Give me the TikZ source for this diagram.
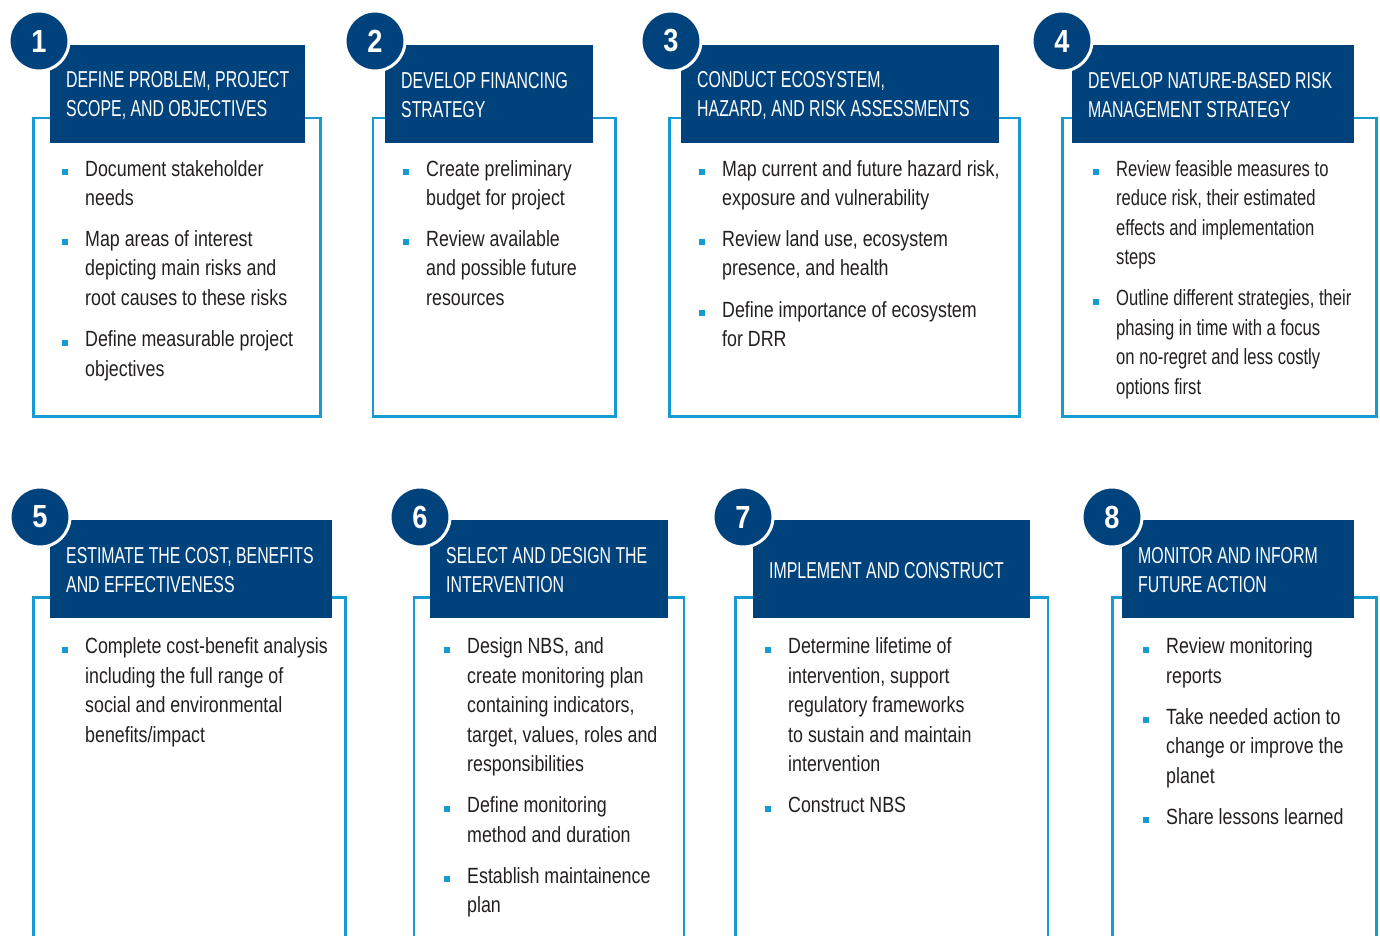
\documentclass[tikz,border=0pt]{standalone}
\usepackage{fontspec}
\usepackage{tikz}
\usetikzlibrary{positioning}
\newfontfamily\bodyfont[FakeStretch=0.81]{Liberation Sans}
\newfontfamily\narrowfont[FakeStretch=0.755]{Liberation Sans}
\newfontfamily\headfont[FakeStretch=0.69]{Liberation Sans}
\newfontfamily\numfont[FakeStretch=0.85]{Liberation Sans}
\definecolor{navy}{RGB}{0,66,124}
\definecolor{skyblue}{RGB}{22,154,210}
\definecolor{ink}{RGB}{35,31,32}
\newcommand{\blt}{\makebox[23pt][l]{\textcolor{skyblue}{\rule[1pt]{6pt}{6pt}}}}

\begin{document}
\begin{tikzpicture}[x=1pt,y=-1pt,inner sep=0pt]
\tikzstyle{head}=[rectangle, fill=navy, anchor=north west, minimum height=98pt]
\tikzstyle{headtext}=[text=white, align=left, yshift=-1pt, font=\headfont\fontsize{23}{29}\selectfont]
\tikzstyle{num}=[circle, minimum size=60pt, fill=navy, draw=white, line width=3pt, text=white, font=\numfont\bfseries\fontsize{32}{32}\selectfont]
\tikzstyle{frame}=[draw=skyblue, line width=2.7pt]
\tikzstyle{items}=[anchor=base west, text=ink, font=\bodyfont\fontsize{22}{29.5}\selectfont]
\useasboundingbox (0,0) rectangle (1380,936);
\draw[frame] (33.5,118) rectangle (320.5,416.5);
\draw[frame] (373,118) rectangle (615.7,416.5);
\draw[frame] (669.5,118) rectangle (1019.5,416.5);
\draw[frame] (1062.5,118) rectangle (1376.5,416.5);
\draw[frame] (33.5,936) |- (345.7,597.3) -- (345.7,936);
\draw[frame] (414,936) |- (684,597.3) -- (684,936);
\draw[frame] (735.3,936) |- (1048,597.3) -- (1048,936);
\draw[frame] (1112.3,936) |- (1376.7,597.3) -- (1376.7,936);
\node[head, minimum width=255pt] (h1) at (50,45) {};
\node[head, minimum width=208pt] (h2) at (385,45) {};
\node[head, minimum width=318pt] (h3) at (681,45) {};
\node[head, minimum width=282pt] (h4) at (1072,45) {};
\node[head, minimum width=282pt] (h5) at (50,520) {};
\node[head, minimum width=238pt] (h6) at (430,520) {};
\node[head, minimum width=277pt] (h7) at (753,520) {};
\node[head, minimum width=232pt] (h8) at (1122,520) {};
\node[headtext] (ht1) [right=16pt of h1.west] {DEFINE PROBLEM, PROJECT\\SCOPE, AND OBJECTIVES};
\node[headtext] (ht2) [right=16pt of h2.west] {DEVELOP FINANCING\\STRATEGY};
\node[headtext] (ht3) [right=16pt of h3.west] {CONDUCT ECOSYSTEM,\\HAZARD, AND RISK ASSESSMENTS};
\node[headtext] (ht4) [right=16pt of h4.west] {DEVELOP NATURE-BASED RISK\\MANAGEMENT STRATEGY};
\node[headtext] (ht5) [right=16pt of h5.west] {ESTIMATE THE COST, BENEFITS\\AND EFFECTIVENESS};
\node[headtext] (ht6) [right=16pt of h6.west] {SELECT AND DESIGN THE\\INTERVENTION};
\node[headtext] (ht7) [right=16pt of h7.west] {IMPLEMENT AND CONSTRUCT};
\node[headtext] (ht8) [right=16pt of h8.west] {MONITOR AND INFORM\\FUTURE ACTION};
\node[num] (n1) at ([shift={(-11,-4)}]h1.north west) {1};
\node[num] (n2) at ([shift={(-10,-4)}]h2.north west) {2};
\node[num] (n3) at ([shift={(-10,-4)}]h3.north west) {3};
\node[num] (n4) at ([shift={(-10,-4)}]h4.north west) {4};
\node[num] (n5) at ([shift={(-10,-3)}]h5.north west) {5};
\node[num] (n6) at ([shift={(-10,-3)}]h6.north west) {6};
\node[num] (n7) at ([shift={(-10,-3)}]h7.north west) {7};
\node[num] (n8) at ([shift={(-10,-3)}]h8.north west) {8};
\node[items] (t1) at (62,176) {\begin{tabular}[t]{@{}l@{}l@{}}
\blt & Document stakeholder\\ & needs\\[11.5pt]
\blt & Map areas of interest\\ & depicting main risks and\\ & root causes to these risks\\[11.5pt]
\blt & Define measurable project\\ & objectives
\end{tabular}};
\node[items] (t2) at (403,176) {\begin{tabular}[t]{@{}l@{}l@{}}
\blt & Create preliminary\\ & budget for project\\[11.5pt]
\blt & Review available\\ & and possible future\\ & resources
\end{tabular}};
\node[items] (t3) at (699,176) {\begin{tabular}[t]{@{}l@{}l@{}}
\blt & Map current and future hazard risk,\\ & exposure and vulnerability\\[11.5pt]
\blt & Review land use, ecosystem\\ & presence, and health\\[11.5pt]
\blt & Define importance of ecosystem\\ & for DRR
\end{tabular}};
\node[items, font=\narrowfont\fontsize{22}{29.5}\selectfont] (t4) at (1093,176) {\begin{tabular}[t]{@{}l@{}l@{}}
\blt & Review feasible measures to\\ & reduce risk, their estimated\\ & effects and implementation\\ & steps\\[11.5pt]
\blt & Outline different strategies, their\\ & phasing in time with a focus\\ & on no-regret and less costly\\ & options first
\end{tabular}};
\node[items] (t5) at (62,653.5) {\begin{tabular}[t]{@{}l@{}l@{}}
\blt & Complete cost-benefit analysis\\ & including the full range of\\ & social and environmental\\ & benefits/impact
\end{tabular}};
\node[items] (t6) at (444,653.5) {\begin{tabular}[t]{@{}l@{}l@{}}
\blt & Design NBS, and\\ & create monitoring plan\\ & containing indicators,\\ & target, values, roles and\\ & responsibilities\\[11.5pt]
\blt & Define monitoring\\ & method and duration\\[11.5pt]
\blt & Establish maintainence\\ & plan
\end{tabular}};
\node[items] (t7) at (765,653.5) {\begin{tabular}[t]{@{}l@{}l@{}}
\blt & Determine lifetime of\\ & intervention, support\\ & regulatory frameworks\\ & to sustain and maintain\\ & intervention\\[11.5pt]
\blt & Construct NBS
\end{tabular}};
\node[items] (t8) at (1143,653.5) {\begin{tabular}[t]{@{}l@{}l@{}}
\blt & Review monitoring\\ & reports\\[11.5pt]
\blt & Take needed action to\\ & change or improve the\\ & planet\\[11.5pt]
\blt & Share lessons learned
\end{tabular}};
\end{tikzpicture}
\end{document}
